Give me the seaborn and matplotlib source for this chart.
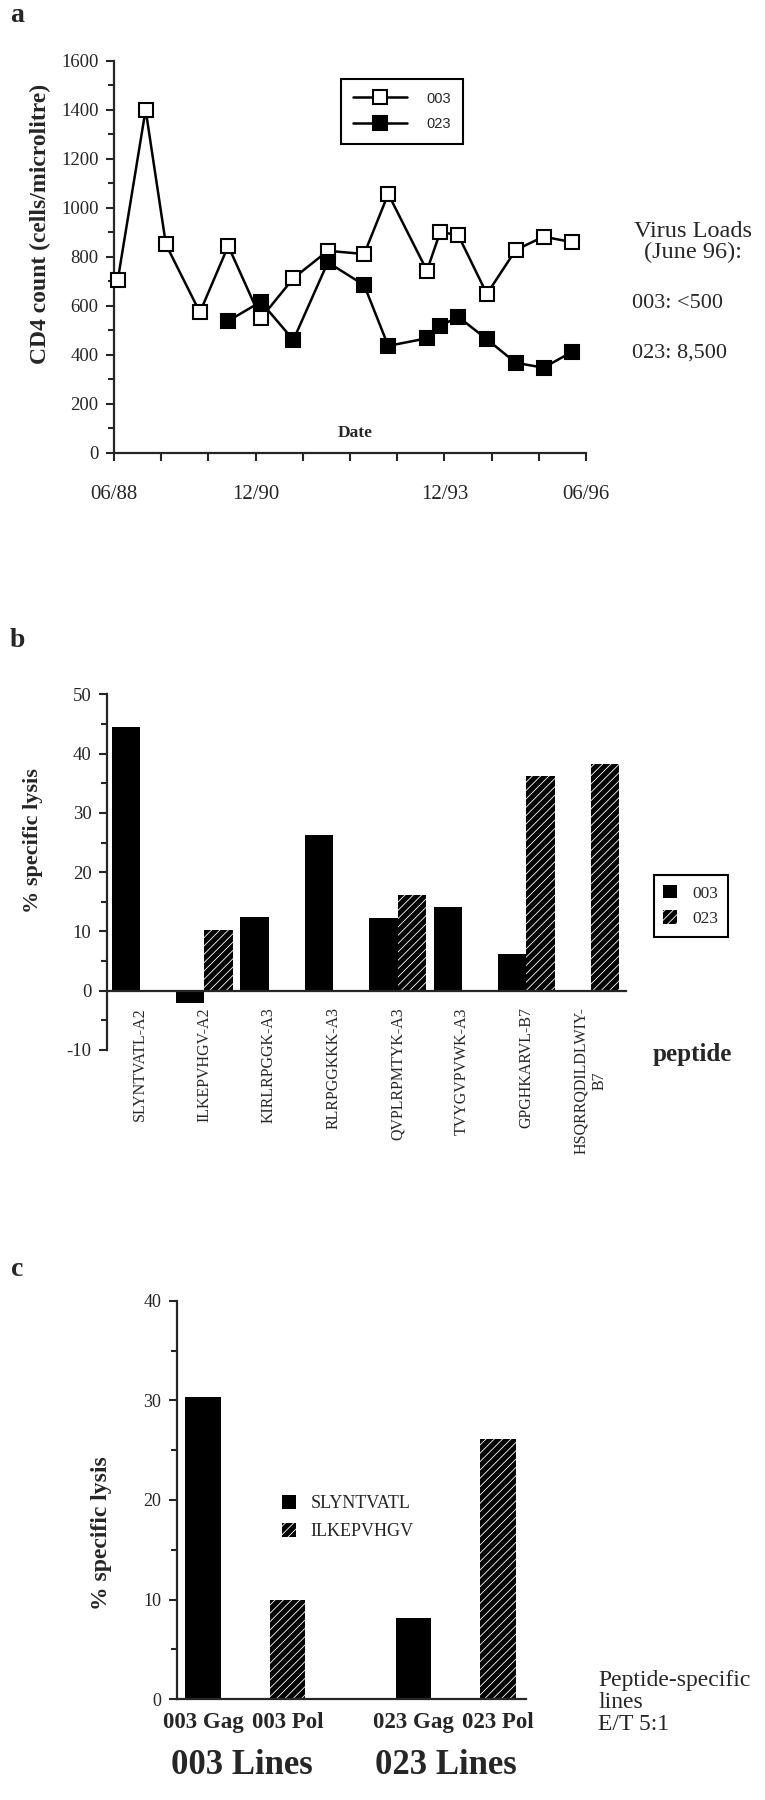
import matplotlib
matplotlib.use("Agg")
from matplotlib import pyplot as plt
from matplotlib import ticker
from matplotlib.lines import Line2D
from matplotlib.patches import Patch
import numpy as np
import pandas as pd
import seaborn as sns

# ---- panel a : CD4 counts over time (x in date-tick units) ----
date_pos_003 = [0.08, 0.67, 1.10, 1.82, 2.42, 3.11, 3.80, 4.53, 5.30, 5.81,
                6.63, 6.91, 7.29, 7.90, 8.51, 9.10, 9.71]
cd4_003 = [705, 1400, 850, 573, 844, 548, 712, 824, 811, 1056,
           743, 900, 889, 648, 827, 882, 859]
date_pos_023 = [2.42, 3.11, 3.80, 4.53, 5.30, 5.81, 6.63, 6.91, 7.29, 7.90,
                8.51, 9.10, 9.71]
cd4_023 = [538, 616, 460, 777, 684, 436, 467, 517, 555, 463, 367, 347, 412]
date_labels = ['06/88', '', '', '12/90', '', '', '', '12/93', '', '', '06/96']

# ---- panel b : lysis per peptide ----
peptides = ['SLYNTVATL-A2', 'ILKEPVHGV-A2', 'KIRLRPGGK-A3', 'RLRPGGKKK-A3',
            'QVPLRPMTYK-A3', 'TVYGVPVWK-A3', 'GPGHKARVL-B7',
            'HSQRRQDILDLWIY-\nB7']
lysis_003 = [44.5, -2.0, 12.4, 26.3, 12.3, 14.2, 6.2, np.nan]
lysis_023 = [np.nan, 10.3, np.nan, np.nan, 16.1, np.nan, 36.3, 38.2]

# ---- panel c : peptide-specific lines ----
line_names = ['003 Gag', '003 Pol', '023 Gag', '023 Pol']
line_peptide = ['SLYNTVATL', 'ILKEPVHGV', 'SLYNTVATL', 'ILKEPVHGV']
lysis_lines = [30.3, 10.0, 8.2, 26.1]

W, H = 765, 1800


def fx(px):
    return px / W


def fy(py):
    return 1 - py / H


def box(l, t, r, b):
    return [fx(l), fy(b), (r - l) / W, (b - t) / H]


def hatch_bars(bars):
    for p in bars:
        p.set_facecolor('black')
        p.set_hatch('////')
        if hasattr(p, 'set_hatchcolor'):
            p.set_hatchcolor('white')
            p.set_edgecolor('black')
            p.set_linewidth(1.0)
        else:
            p.set_edgecolor('white')
            p.set_linewidth(0)


sns.set_style('ticks')
plt.rcParams['font.family'] = ['Liberation Serif', 'DejaVu Serif']
plt.rcParams['hatch.linewidth'] = 0.6
plt.rcParams['axes.linewidth'] = 1.6
plt.rcParams['axes.unicode_minus'] = False

fig = plt.figure(figsize=(7.65, 18), dpi=100)

# ================= panel a =================
ax_a = fig.add_axes(box(114, 60.7, 586, 452.7))
sns.lineplot(x=date_pos_003, y=cd4_003, ax=ax_a, color='black', lw=1.8,
             marker='s', markersize=10, markerfacecolor='white',
             markeredgecolor='black', markeredgewidth=1.5, clip_on=False, zorder=3)
sns.lineplot(x=date_pos_023, y=cd4_023, ax=ax_a, color='black', lw=1.8,
             marker='s', markersize=10, markerfacecolor='black',
             markeredgecolor='black', markeredgewidth=1.5, clip_on=False, zorder=4)
ax_a.set_xlim(0, 10)
ax_a.set_ylim(0, 1600)
ax_a.set_xticks(range(len(date_labels)))
ax_a.set_xticklabels(date_labels)
ax_a.yaxis.set_major_locator(ticker.MultipleLocator(200))
ax_a.yaxis.set_minor_locator(ticker.MultipleLocator(100))
ax_a.tick_params(axis='x', length=6, width=1.5, pad=17, labelsize=15)
ax_a.tick_params(axis='y', which='major', length=6, width=1.5, labelsize=13.5, pad=5)
ax_a.tick_params(axis='y', which='minor', length=4, width=1.5)
sns.despine(ax=ax_a)
ax_a.set_xlabel('')
ax_a.set_ylabel('')
ax_a.text(0.511, 0.05, 'Date', transform=ax_a.transAxes, ha='center', va='center',
          fontsize=12.5, fontweight='bold')

leg_a = fig.legend(
    handles=[Line2D([], [], color='black', lw=1.8, marker='s', ms=10, mfc='white',
                    mec='black', mew=1.5),
             Line2D([], [], color='black', lw=1.8, marker='s', ms=10, mfc='black',
                    mec='black', mew=1.5)],
    labels=['003', '023'], loc='center', bbox_to_anchor=(fx(402), fy(111.4)),
    frameon=True, fancybox=False, framealpha=1, edgecolor='black',
    prop={'family': 'Liberation Sans', 'size': 10.5}, handlelength=3.7,
    handletextpad=1.3, borderpad=0.85, labelspacing=0.8)
leg_a.get_frame().set_linewidth(1.5)

fig.text(fx(40), fy(223.5), 'CD4 count (cells/microlitre)', rotation=90,
         ha='center', va='center', fontsize=17, fontweight='bold')
fig.text(fx(693), fy(242), 'Virus Loads\n(June 96):', ha='center', va='center',
         fontsize=17.5, multialignment='center', linespacing=1.05)
fig.text(fx(632), fy(303), '003: <500', ha='left', va='center', fontsize=16)
fig.text(fx(632), fy(353), '023: 8,500', ha='left', va='center', fontsize=16)

# ================= panel b =================
df_b = pd.DataFrame({
    'peptide': peptides * 2,
    'lysis': lysis_003 + lysis_023,
    'patient': ['003'] * len(peptides) + ['023'] * len(peptides),
}).dropna()

ax_b = fig.add_axes(box(106.7, 694.3, 626, 1050))
sns.barplot(data=df_b, x='peptide', y='lysis', hue='patient', order=peptides,
            hue_order=['003', '023'], palette={'003': 'black', '023': 'black'},
            width=0.88, saturation=1, errorbar=None, legend=False, ax=ax_b)
for p in ax_b.containers[0]:
    p.set_edgecolor('black')
    p.set_linewidth(0)
hatch_bars(ax_b.containers[1])
ax_b.set_xlim(-0.517, 7.548)
ax_b.set_ylim(-10, 50)
ax_b.yaxis.set_major_locator(ticker.MultipleLocator(10))
ax_b.yaxis.set_minor_locator(ticker.MultipleLocator(5))
sns.despine(ax=ax_b)
ax_b.spines['bottom'].set_position(('data', 0))
ax_b.tick_params(axis='x', length=0, pad=12, labelsize=11.5, labelrotation=90)
for t in ax_b.get_xticklabels():
    t.set_multialignment('center')
ax_b.tick_params(axis='y', which='major', length=6, width=1.5, labelsize=13.5, pad=5)
ax_b.tick_params(axis='y', which='minor', length=4, width=1.5)
ax_b.set_xlabel('')
ax_b.set_ylabel('')

fig.text(fx(33), fy(841), '% specific lysis', rotation=90, ha='center',
         va='center', fontsize=16, fontweight='bold')
fig.text(fx(692), fy(1055), 'peptide', ha='center', va='center', fontsize=18,
         fontweight='bold')

h003 = Patch(facecolor='black', edgecolor='black', lw=0)
h023 = Patch(facecolor='black')
hatch_bars([h023])
leg_b = fig.legend(handles=[h003, h023], labels=['003', '023'], loc='center',
                   bbox_to_anchor=(fx(691), fy(906)), frameon=True, fancybox=False,
                   framealpha=1, edgecolor='black', fontsize=12.5, handlelength=0.8,
                   handleheight=0.8, handletextpad=0.9, borderpad=0.55,
                   labelspacing=0.5)
leg_b.get_frame().set_linewidth(1.5)

# ================= panel c =================
slot = [0, 1, 2.5, 3.5]  # bar slots, gap between the two patients
ax_c = fig.add_axes(box(176.7, 1300.7, 526, 1699.3))
sns.barplot(x=slot, y=lysis_lines, hue=line_peptide, native_scale=True,
            dodge=False, hue_order=['SLYNTVATL', 'ILKEPVHGV'],
            palette={'SLYNTVATL': 'black', 'ILKEPVHGV': 'black'}, width=0.42,
            saturation=1, errorbar=None, legend=False, ax=ax_c)
for p in ax_c.containers[0]:
    p.set_edgecolor('black')
    p.set_linewidth(0)
hatch_bars(ax_c.containers[1])
ax_c.set_xlim(-0.313, 3.833)
ax_c.set_ylim(0, 40)
ax_c.set_xticks(slot)
ax_c.set_xticklabels(line_names, fontweight='bold')
ax_c.yaxis.set_major_locator(ticker.MultipleLocator(10))
ax_c.yaxis.set_minor_locator(ticker.MultipleLocator(5))
sns.despine(ax=ax_c)
ax_c.tick_params(axis='x', length=0, pad=9, labelsize=16.5)
ax_c.tick_params(axis='y', which='major', length=6, width=1.5, labelsize=13, pad=5)
ax_c.tick_params(axis='y', which='minor', length=4, width=1.5)
ax_c.set_xlabel('')
ax_c.set_ylabel('')

fig.text(fx(101.7), fy(1533), '% specific lysis', rotation=90, ha='center',
         va='center', fontsize=17, fontweight='bold')

hS = Patch(facecolor='black', edgecolor='black', lw=0)
hI = Patch(facecolor='black')
hatch_bars([hI])
fig.legend(handles=[hS, hI], labels=['SLYNTVATL', 'ILKEPVHGV'], loc='center left',
           bbox_to_anchor=(fx(281.7), fy(1517.5)), frameon=False, fontsize=13,
           handlelength=0.8, handleheight=0.8, handletextpad=0.8, borderpad=0,
           borderaxespad=0, labelspacing=0.6)

fig.text(fx(598), fy(1670), 'Peptide-specific\nlines\nE/T 5:1', ha='left',
         va='top', fontsize=17, linespacing=1.05)
fig.text(fx(241.7), fy(1765), '003 Lines', ha='center', va='center', fontsize=25,
         fontweight='bold')
fig.text(fx(446), fy(1765), '023 Lines', ha='center', va='center', fontsize=25,
         fontweight='bold')

# panel letters
for letter, ypx in [('a', 15), ('b', 641), ('c', 1270)]:
    fig.text(fx(17), fy(ypx), letter, ha='center', va='center', fontsize=20,
             fontweight='bold')

fig.savefig('out.png', dpi=100)
